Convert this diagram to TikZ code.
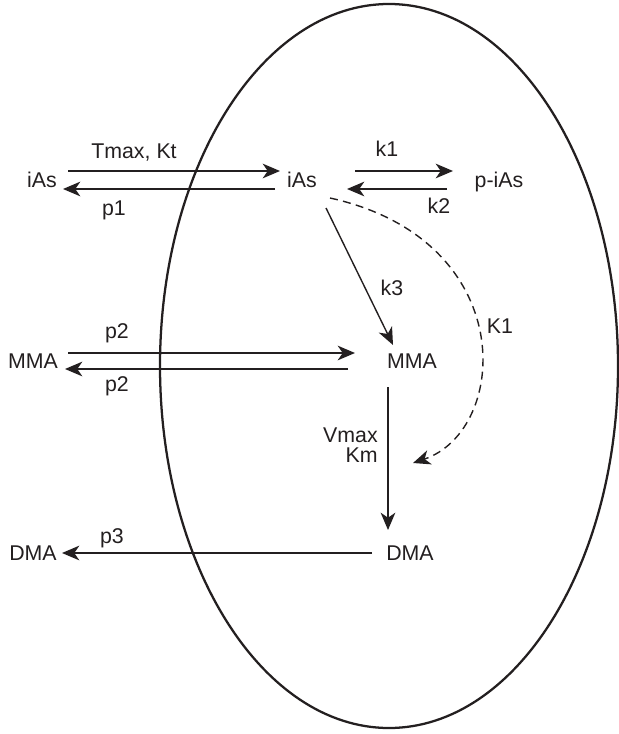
\documentclass[tikz,border=0pt]{standalone}
\usepackage{fontspec}
\setmainfont{Liberation Sans}
\usetikzlibrary{arrows.meta,calc}
\definecolor{ink}{HTML}{231F20}
\begin{document}
\begin{tikzpicture}[x=0.75pt,y=-0.75pt,
  lbl/.style={inner sep=0pt,anchor=base,text=ink,font=\fontsize{16}{19}\selectfont},
  arr/.style={draw=ink,line width=1.05pt,-{Stealth[length=13pt,width=11pt,inset=3.8pt]}},
  dasharr/.style={arr,dash pattern=on 6pt off 4pt},
  cell/.style={draw=ink,line width=1.7pt}]
\useasboundingbox (0,0) rectangle (618,734);

% cell boundary
\draw[cell] (389,366) ellipse [x radius=171.75pt, y radius=271.5pt];

% species
\node[lbl] (iasOut) at (42,188) {iAs};
\node[lbl] (iasIn)  at (302,188) {iAs};
\node[lbl] (piAs)   at (499,188) {p-iAs};
\node[lbl] (mmaOut) at (33,368) {MMA};
\node[lbl] (mmaIn)  at (412,368) {MMA};
\node[lbl] (dmaOut) at (33,560) {DMA};
\node[lbl] (dmaIn)  at (410,560) {DMA};

% rate labels
\node[lbl] (tk)  at (134,159) {Tmax, Kt};
\node[lbl] (pa)  at (114,215) {p1};
\node[lbl] (ka)  at (387,157) {k1};
\node[lbl] (kb)  at (439,214) {k2};
\node[lbl] (pb1) at (117,338) {p2};
\node[lbl] (pb2) at (117,391) {p2};
\node[lbl] (kc)  at (392,295) {k3};
\node[lbl] (ki)  at (500,333) {K1};
\node[lbl,anchor=base east] (vm) at (378,442) {Vmax};
\node[lbl,anchor=base east] (km) at (378,462) {Km};
\node[lbl] (pc)  at (112,543) {p3};

% uptake / efflux of iAs
\draw[arr] ($(iasOut.base)+(26,-17)$) -- ($(iasIn.base)+(-22,-17)$);
\draw[arr] ($(iasIn.base)+(-27,1)$) -- ($(iasOut.base)+(21,1)$);

% phosphorylation equilibrium
\draw[arr] ($(iasIn.base)+(53,-17)$) -- ($(piAs.base)+(-46,-17)$);
\draw[arr] ($(piAs.base)+(-52,1)$) -- ($(iasIn.base)+(45,1)$);

% MMA exchange
\draw[arr] ($(mmaOut.base)+(35,-15)$) -- ($(mmaIn.base)+(-57,-15)$);
\draw[arr] ($(mmaIn.base)+(-64,1)$) -- ($(mmaOut.base)+(32,1)$);

% methylation steps
\draw[arr] ($(iasIn.base)+(24,20)$) -- ($(mmaIn.base)+(-19,-23)$);
\draw[arr] ($(mmaIn.base)+(-24,19)$) -- ($(dmaIn.base)+(-22,-30)$);

% DMA efflux
\draw[arr] ($(dmaIn.base)+(-38,-7)$) -- ($(dmaOut.base)+(29,-7)$);

% inhibition of the second methylation by iAs
\coordinate (inhib) at (413,463);
\draw[dasharr] ($(iasIn.base)+(28,10)$) .. controls (520,240) and (510,430) .. (inhib);
\end{tikzpicture}
\end{document}
